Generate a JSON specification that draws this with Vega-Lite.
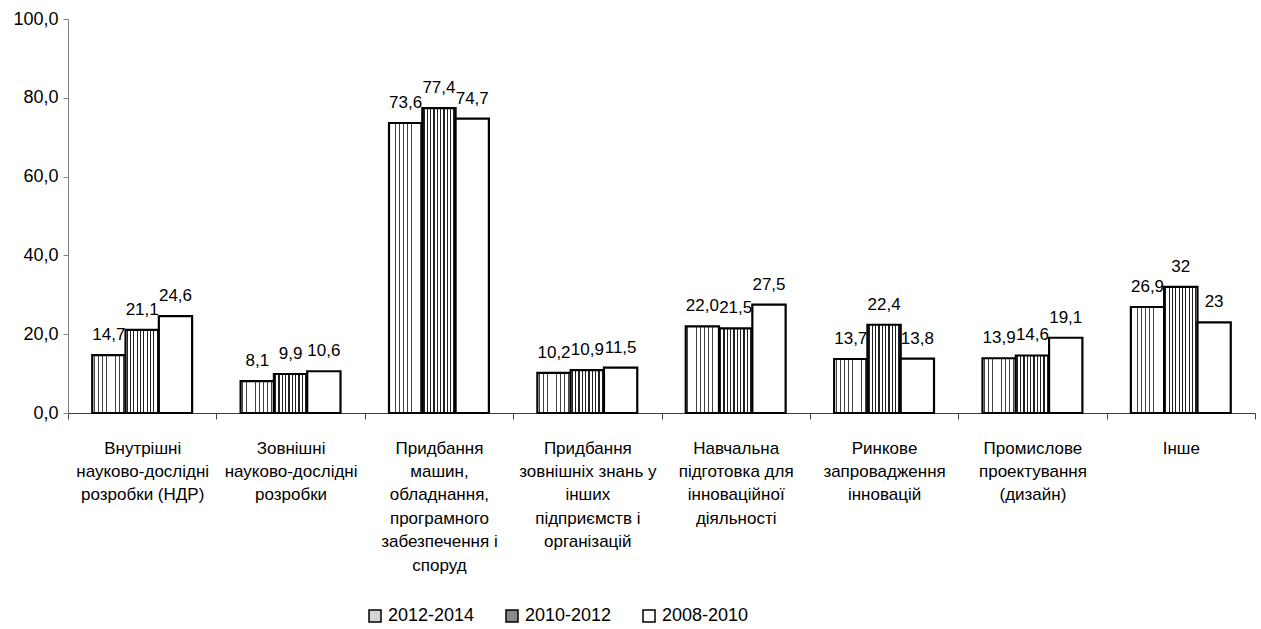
{
  "$schema": "https://vega.github.io/schema/vega-lite/v6.json",
  "autosize": "none",
  "width": 1187,
  "height": 394,
  "padding": {"left": 68, "top": 19, "right": 6, "bottom": 216},
  "background": "white",
  "config": {
    "locale": {"number": {"decimal": ",", "thousands": " ", "grouping": [3], "currency": ["", ""]}},
    "font": "Liberation Sans",
    "view": {"stroke": null}
  },
  "data": {
    "values": [
      {"category": "Внутрішні\nнауково-дослідні\nрозробки (НДР)", "series": "2012-2014", "value": 14.7, "label": "14,7"},
      {"category": "Внутрішні\nнауково-дослідні\nрозробки (НДР)", "series": "2010-2012", "value": 21.1, "label": "21,1"},
      {"category": "Внутрішні\nнауково-дослідні\nрозробки (НДР)", "series": "2008-2010", "value": 24.6, "label": "24,6"},
      {"category": "Зовнішні\nнауково-дослідні\nрозробки", "series": "2012-2014", "value": 8.1, "label": "8,1"},
      {"category": "Зовнішні\nнауково-дослідні\nрозробки", "series": "2010-2012", "value": 9.9, "label": "9,9"},
      {"category": "Зовнішні\nнауково-дослідні\nрозробки", "series": "2008-2010", "value": 10.6, "label": "10,6"},
      {"category": "Придбання\nмашин,\nобладнання,\nпрограмного\nзабезпечення і\nспоруд", "series": "2012-2014", "value": 73.6, "label": "73,6"},
      {"category": "Придбання\nмашин,\nобладнання,\nпрограмного\nзабезпечення і\nспоруд", "series": "2010-2012", "value": 77.4, "label": "77,4"},
      {"category": "Придбання\nмашин,\nобладнання,\nпрограмного\nзабезпечення і\nспоруд", "series": "2008-2010", "value": 74.7, "label": "74,7"},
      {"category": "Придбання\nзовнішніх знань у\nінших\nпідприємств і\nорганізацій", "series": "2012-2014", "value": 10.2, "label": "10,2"},
      {"category": "Придбання\nзовнішніх знань у\nінших\nпідприємств і\nорганізацій", "series": "2010-2012", "value": 10.9, "label": "10,9"},
      {"category": "Придбання\nзовнішніх знань у\nінших\nпідприємств і\nорганізацій", "series": "2008-2010", "value": 11.5, "label": "11,5"},
      {"category": "Навчальна\nпідготовка для\nінноваційної\nдіяльності", "series": "2012-2014", "value": 22.0, "label": "22,0"},
      {"category": "Навчальна\nпідготовка для\nінноваційної\nдіяльності", "series": "2010-2012", "value": 21.5, "label": "21,5"},
      {"category": "Навчальна\nпідготовка для\nінноваційної\nдіяльності", "series": "2008-2010", "value": 27.5, "label": "27,5"},
      {"category": "Ринкове\nзапровадження\nінновацій", "series": "2012-2014", "value": 13.7, "label": "13,7"},
      {"category": "Ринкове\nзапровадження\nінновацій", "series": "2010-2012", "value": 22.4, "label": "22,4"},
      {"category": "Ринкове\nзапровадження\nінновацій", "series": "2008-2010", "value": 13.8, "label": "13,8"},
      {"category": "Промислове\nпроектування\n(дизайн)", "series": "2012-2014", "value": 13.9, "label": "13,9"},
      {"category": "Промислове\nпроектування\n(дизайн)", "series": "2010-2012", "value": 14.6, "label": "14,6"},
      {"category": "Промислове\nпроектування\n(дизайн)", "series": "2008-2010", "value": 19.1, "label": "19,1"},
      {"category": "Інше", "series": "2012-2014", "value": 26.9, "label": "26,9"},
      {"category": "Інше", "series": "2010-2012", "value": 32, "label": "32"},
      {"category": "Інше", "series": "2008-2010", "value": 23, "label": "23"}
    ]
  },
  "encoding": {
    "x": {
      "field": "category",
      "type": "nominal",
      "sort": null,
      "scale": {"paddingInner": 0, "paddingOuter": 0},
      "axis": {
        "title": null,
        "labelAngle": 0,
        "labelExpr": "isString(datum.value) ? split(datum.value, '\\n') : ''",
        "labelFontSize": 17,
        "labelLineHeight": 23.4,
        "labelColor": "#000",
        "labelPadding": 21,
        "labelBaseline": "top",
        "labelLimit": 0,
        "tickBand": "extent",
        "tickSize": 6,
        "tickColor": "#404040",
        "domainColor": "#404040",
        "domainWidth": 1,
        "grid": false
      }
    },
    "xOffset": {
      "field": "series",
      "type": "nominal",
      "sort": ["2012-2014", "2010-2012", "2008-2010"],
      "scale": {"paddingInner": 0, "paddingOuter": 0.728}
    },
    "y": {
      "field": "value",
      "type": "quantitative",
      "scale": {"domain": [0, 100], "nice": false, "zero": true},
      "axis": {
        "title": null,
        "values": [0, 20, 40, 60, 80, 100],
        "format": ".1f",
        "grid": false,
        "labelFontSize": 18,
        "labelColor": "#000",
        "labelPadding": 5,
        "tickSize": 5,
        "tickColor": "#808080",
        "domainColor": "#808080"
      }
    }
  },
  "layer": [
    {
      "mark": {"type": "bar", "stroke": "#000", "strokeWidth": 2.2},
      "encoding": {
        "fill": {
          "condition": [
            {
              "test": "datum.series === '2012-2014'",
              "value": {
                "gradient": "linear", "x1": 0, "y1": 0, "x2": 1, "y2": 0,
                "stops": [
                  {"offset": 0, "color": "#fff"},
                  {"offset": 0.05, "color": "#fff"}, {"offset": 0.05, "color": "#444"}, {"offset": 0.075, "color": "#444"}, {"offset": 0.075, "color": "#fff"},
                  {"offset": 0.175, "color": "#fff"}, {"offset": 0.175, "color": "#444"}, {"offset": 0.2, "color": "#444"}, {"offset": 0.2, "color": "#fff"},
                  {"offset": 0.3, "color": "#fff"}, {"offset": 0.3, "color": "#444"}, {"offset": 0.325, "color": "#444"}, {"offset": 0.325, "color": "#fff"},
                  {"offset": 0.425, "color": "#fff"}, {"offset": 0.425, "color": "#444"}, {"offset": 0.45, "color": "#444"}, {"offset": 0.45, "color": "#fff"},
                  {"offset": 0.55, "color": "#fff"}, {"offset": 0.55, "color": "#444"}, {"offset": 0.575, "color": "#444"}, {"offset": 0.575, "color": "#fff"},
                  {"offset": 0.675, "color": "#fff"}, {"offset": 0.675, "color": "#444"}, {"offset": 0.7, "color": "#444"}, {"offset": 0.7, "color": "#fff"},
                  {"offset": 0.8, "color": "#fff"}, {"offset": 0.8, "color": "#444"}, {"offset": 0.825, "color": "#444"}, {"offset": 0.825, "color": "#fff"},
                  {"offset": 0.925, "color": "#fff"}, {"offset": 0.925, "color": "#444"}, {"offset": 0.95, "color": "#444"}, {"offset": 0.95, "color": "#fff"},
                  {"offset": 1, "color": "#fff"}
                ]
              }
            },
            {
              "test": "datum.series === '2010-2012'",
              "value": {
                "gradient": "linear", "x1": 0, "y1": 0, "x2": 1, "y2": 0,
                "stops": [
                  {"offset": 0, "color": "#fff"},
                  {"offset": 0.031, "color": "#fff"}, {"offset": 0.031, "color": "#222"}, {"offset": 0.069, "color": "#222"}, {"offset": 0.069, "color": "#fff"},
                  {"offset": 0.131, "color": "#fff"}, {"offset": 0.131, "color": "#222"}, {"offset": 0.169, "color": "#222"}, {"offset": 0.169, "color": "#fff"},
                  {"offset": 0.231, "color": "#fff"}, {"offset": 0.231, "color": "#222"}, {"offset": 0.269, "color": "#222"}, {"offset": 0.269, "color": "#fff"},
                  {"offset": 0.331, "color": "#fff"}, {"offset": 0.331, "color": "#222"}, {"offset": 0.369, "color": "#222"}, {"offset": 0.369, "color": "#fff"},
                  {"offset": 0.431, "color": "#fff"}, {"offset": 0.431, "color": "#222"}, {"offset": 0.469, "color": "#222"}, {"offset": 0.469, "color": "#fff"},
                  {"offset": 0.531, "color": "#fff"}, {"offset": 0.531, "color": "#222"}, {"offset": 0.569, "color": "#222"}, {"offset": 0.569, "color": "#fff"},
                  {"offset": 0.631, "color": "#fff"}, {"offset": 0.631, "color": "#222"}, {"offset": 0.669, "color": "#222"}, {"offset": 0.669, "color": "#fff"},
                  {"offset": 0.731, "color": "#fff"}, {"offset": 0.731, "color": "#222"}, {"offset": 0.769, "color": "#222"}, {"offset": 0.769, "color": "#fff"},
                  {"offset": 0.831, "color": "#fff"}, {"offset": 0.831, "color": "#222"}, {"offset": 0.869, "color": "#222"}, {"offset": 0.869, "color": "#fff"},
                  {"offset": 0.931, "color": "#fff"}, {"offset": 0.931, "color": "#222"}, {"offset": 0.969, "color": "#222"}, {"offset": 0.969, "color": "#fff"},
                  {"offset": 1, "color": "#fff"}
                ]
              }
            }
          ],
          "field": "series",
          "type": "nominal",
          "scale": {
            "domain": ["2012-2014", "2010-2012", "2008-2010"],
            "range": ["#d4d4d4", "#8a8a8a", "#ffffff"]
          },
          "legend": {
            "title": null,
            "orient": "none",
            "legendX": 298,
            "legendY": 588,
            "direction": "horizontal",
            "padding": 0,
            "symbolType": "square",
            "symbolSize": 144,
            "symbolStrokeColor": "#000",
            "symbolStrokeWidth": 1.5,
            "labelFontSize": 18,
            "labelColor": "#000",
            "labelOffset": 4,
            "columnPadding": 28
          }
        }
      }
    },
    {
      "mark": {"type": "text", "baseline": "alphabetic", "dy": -15, "fontSize": 17, "color": "#000"},
      "encoding": {
        "text": {"field": "label"}
      }
    }
  ]
}
